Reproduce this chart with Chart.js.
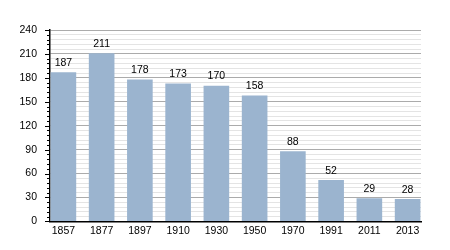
<!DOCTYPE html>
<html>
<head>
<meta charset="utf-8">
<script src="https://cdn.jsdelivr.net/npm/chart.js@4"></script>
<style>
  html, body { margin: 0; padding: 0; background: #fff; }
  #wrap { width: 450px; height: 250px; }
</style>
</head>
<body>
<div id="wrap"><canvas id="popChart"></canvas></div>
<script>
var years = ['1857', '1877', '1897', '1910', '1930', '1950', '1970', '1991', '2011', '2013'];
var population = [187, 211, 178, 173, 170, 158, 88, 52, 29, 28];
var yMax = 240;
var yMajorStep = 30;
var yMinorStep = 6;

// value labels above bars, and the short/long tick marks on the y axis
var extras = {
    id: 'extras',
    afterDatasetsDraw: function(chart) {
        var ctx = chart.ctx;
        var meta = chart.getDatasetMeta(0);
        ctx.save();
        ctx.fillStyle = '#000';
        ctx.font = '10.5px "Liberation Sans", Arial, sans-serif';
        ctx.textAlign = 'center';
        ctx.textBaseline = 'bottom';
        meta.data.forEach(function(bar, i) {
            ctx.fillText(String(population[i]), bar.x, bar.y - 4);
        });
        var y = chart.scales.y;
        var left = chart.chartArea.left;
        ctx.strokeStyle = '#000';
        ctx.lineWidth = 1;
        for (var v = 0; v <= yMax; v += yMinorStep) {
            var py = Math.round(y.getPixelForValue(v)) + 0.5;
            var len = v % yMajorStep === 0 ? 5 : 3;
            ctx.beginPath();
            ctx.moveTo(left - len, py);
            ctx.lineTo(left, py);
            ctx.stroke();
        }
        ctx.restore();
    }
};

var ctx = document.getElementById('popChart').getContext('2d');
var popChart = new Chart(ctx, {
    type: 'bar',
    data: {
        datasets: [{
            data: population.map(function(v, i) { return { x: i, y: v }; }),
            backgroundColor: '#9bb4cf',
            borderWidth: 0,
            barPercentage: 0.67,
            categoryPercentage: 1
        }]
    },
    options: {
        responsive: true,
        maintainAspectRatio: false,
        animation: false,
        layout: { padding: { top: 30, right: 29, bottom: 10, left: 0 } },
        plugins: {
            legend: { display: false },
            tooltip: { enabled: false }
        },
        scales: {
            x: {
                type: 'linear',
                offset: false,
                min: -0.35,
                max: years.length - 1 + 0.35,
                afterBuildTicks: function(axis) {
                    axis.ticks = years.map(function(_, i) { return { value: i }; });
                },
                ticks: {
                    color: '#000',
                    font: { family: '"Liberation Sans", Arial, sans-serif', size: 10.5 },
                    padding: 3,
                    maxRotation: 0,
                    autoSkip: false,
                    callback: function(v) { return years[v]; }
                },
                grid: { display: false, drawTicks: false },
                border: { color: '#000', width: 1.5 }
            },
            y: {
                min: 0,
                max: yMax,
                afterFit: function(axis) { axis.width = 50; },
                ticks: {
                    stepSize: yMinorStep,
                    autoSkip: false,
                    color: '#000',
                    font: { family: '"Liberation Sans", Arial, sans-serif', size: 10.5 },
                    padding: 13,
                    callback: function(v) { return v % yMajorStep === 0 ? v : ''; }
                },
                grid: {
                    drawTicks: false,
                    color: function(c) {
                        if (c.tick.value === 0) return 'rgba(0,0,0,0)';
                        return c.tick.value % yMajorStep === 0 ? '#ababab' : '#e4e4e4';
                    }
                },
                border: { color: '#000', width: 1.5 }
            }
        }
    },
    plugins: [extras]
});
</script>
</body>
</html>
